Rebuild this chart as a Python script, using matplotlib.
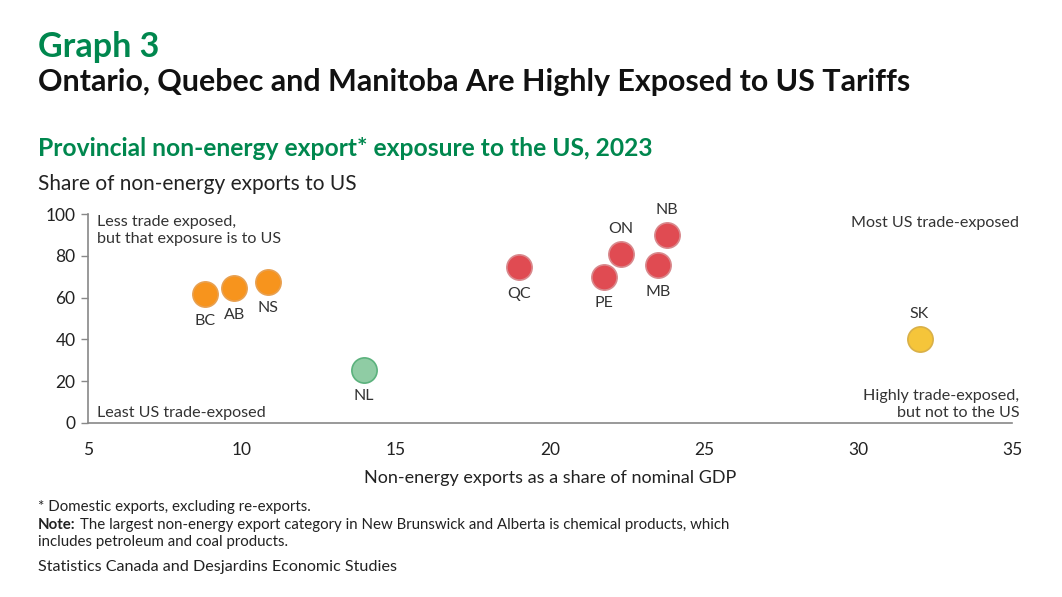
import matplotlib.pyplot as plt

plt.rcParams['font.family'] = ['Lato', 'DejaVu Sans']

# provinces
provinces = ['BC', 'AB', 'NS', 'NL', 'QC', 'PE', 'ON', 'MB', 'NB', 'SK']
gdp_share = [8.8, 9.75, 10.85, 13.95, 19.0, 21.75, 22.3, 23.5, 23.8, 32.0]
us_share = [61.5, 64.5, 67.5, 25.5, 74.5, 70.0, 81.0, 75.5, 90.0, 40.0]
groups = ['o', 'o', 'o', 'g', 'r', 'r', 'r', 'r', 'r', 'y']
label_pos = ['below', 'below', 'below', 'below', 'below', 'below', 'above', 'below', 'above', 'above']

fills = {'o': '#F7941D', 'r': '#E04B52', 'g': '#8FCCA4', 'y': '#F5C53A'}
edges = {'o': '#E8A050', 'r': '#D9888C', 'g': '#5BB27D', 'y': '#D9B048'}

fig = plt.figure(figsize=(10.62, 5.97), dpi=100)
ax = fig.add_axes([0.0829, 0.2915, 0.87, 0.35])

for x, y, g in zip(gdp_share, us_share, groups):
    ax.scatter(x, y, s=330, color=fills[g], edgecolors=edges[g], linewidths=1.2, zorder=3)

for name, x, y, p in zip(provinces, gdp_share, us_share, label_pos):
    if p == 'below':
        ax.annotate(name, (x, y), xytext=(0, -14), textcoords='offset points',
                    ha='center', va='top', fontsize=11.5, color='#333333')
    else:
        ax.annotate(name, (x, y), xytext=(0, 13), textcoords='offset points',
                    ha='center', va='bottom', fontsize=11.5, color='#333333')

ax.set_xlim(5, 35)
ax.set_ylim(0, 100)
ax.set_xticks([5, 10, 15, 20, 25, 30, 35])
ax.set_yticks([0, 20, 40, 60, 80, 100])
ax.tick_params(axis='x', length=0, labelsize=12.5, pad=14, colors='#222222')
ax.tick_params(axis='y', length=5, width=1, color='#888888', labelsize=12.5, pad=4, labelcolor='#222222')
for s in ['top', 'right']:
    ax.spines[s].set_visible(False)
for s in ['left', 'bottom']:
    ax.spines[s].set_color('#888888')
    ax.spines[s].set_linewidth(1.2)
ax.set_xlabel('Non-energy exports as a share of nominal GDP', fontsize=13, color='#222222', labelpad=8)

# quadrant notes
ax.text(0.01, 0.995, 'Less trade exposed,\nbut that exposure is to US', transform=ax.transAxes,
        ha='left', va='top', fontsize=11.6, color='#333333', linespacing=1.3)
ax.text(0.01, 0.015, 'Least US trade-exposed', transform=ax.transAxes,
        ha='left', va='bottom', fontsize=11.6, color='#333333')
ax.text(1.008, 0.99, 'Most US trade-exposed', transform=ax.transAxes,
        ha='right', va='top', fontsize=11.6, color='#333333')
ax.text(1.008, 0.015, 'Highly trade-exposed,\nbut not to the US', transform=ax.transAxes,
        ha='right', va='bottom', fontsize=11.6, color='#333333', linespacing=1.3)

# titles
fig.text(0.036, 0.922, 'Graph 3', fontsize=24.5, fontweight='bold', color='#00874E', va='center')
fig.text(0.036, 0.862, 'Ontario, Quebec and Manitoba Are Highly Exposed to US Tariffs',
         fontsize=21.9, fontweight='bold', color='#111111', va='center')
fig.text(0.036, 0.752, 'Provincial non-energy export* exposure to the US, 2023',
         fontsize=17.7, fontweight='bold', color='#00874E', va='center')
fig.text(0.036, 0.692, 'Share of non-energy exports to US', fontsize=15, color='#222222', va='center')

# footnotes
fig.text(0.036, 0.150, '* Domestic exports, excluding re-exports.', fontsize=10.8, color='#222222', va='center')
note = fig.text(0.036, 0.120, 'Note:', fontsize=10.8, fontweight='bold', color='#222222', va='center')
fig.canvas.draw()
bb = note.get_window_extent().transformed(fig.transFigure.inverted())
fig.text(bb.x1 + 0.004, 0.120, 'The largest non-energy export category in New Brunswick and Alberta is chemical products, which',
         fontsize=10.8, color='#222222', va='center')
fig.text(0.036, 0.092, 'includes petroleum and coal products.', fontsize=10.8, color='#222222', va='center')
fig.text(0.036, 0.050, 'Statistics Canada and Desjardins Economic Studies', fontsize=11.6, color='#222222', va='center')

fig.savefig('out.png', dpi=100)
